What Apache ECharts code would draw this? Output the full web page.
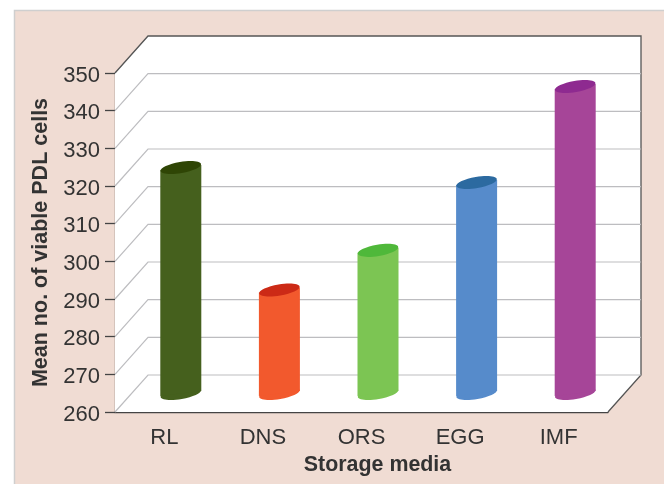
<!DOCTYPE html>
<html>
<head>
<meta charset="utf-8">
<style>
  html, body { margin: 0; padding: 0; background: #fff; }
  #chart { width: 664px; height: 484px; }
</style>
<script src="https://cdn.jsdelivr.net/npm/echarts@6/dist/echarts.min.js"></script>
</head>
<body>
<div id="chart"></div>
<script>
const categories = ['RL', 'DNS', 'ORS', 'EGG', 'IMF']
const meanCells = [320, 287.5, 298, 316, 341.5]
const yTicks = [260, 270, 280, 290, 300, 310, 320, 330, 340, 350]
const bodyColors = ['#45601d', '#f2592d', '#7cc553', '#568bcb', '#a64598']
const capColors = ['#2f4505', '#cc2a16', '#4fb83a', '#2c6aa0', '#8e2a90']

// fake 3d depth of the box, px
const depthX = 33
const depthY = -37
const barRx = 20.5
const barRy = 5.6
const tilt = 0.17
const skew = 2.5
const yMin = yTicks[0]
const font = '"Liberation Sans", Arial, sans-serif'

function wallItem(params, api) {
  const c = params.coordSys
  const right = c.x + c.width
  const bottom = c.y + c.height
  return {
    type: 'group',
    children: [
      {
        type: 'polygon',
        shape: { points: [
          [c.x, c.y], [c.x + depthX, c.y + depthY], [right + depthX, c.y + depthY],
          [right + depthX, bottom + depthY], [right, bottom], [c.x, bottom]
        ] },
        style: { fill: '#fff' }
      },
      {
        type: 'polyline',
        shape: { points: [
          [c.x, c.y], [c.x + depthX, c.y + depthY], [right + depthX, c.y + depthY],
          [right + depthX, bottom + depthY], [right, bottom]
        ] },
        style: { fill: 'none', stroke: '#555', lineWidth: 1.3 }
      }
    ]
  }
}

function gridItem(params, api) {
  const c = params.coordSys
  const y = api.coord([0, api.value(1)])[1]
  const isTop = api.value(1) === yTicks[yTicks.length - 1]
  if (isTop) return null
  return {
    type: 'polyline',
    shape: { points: [[c.x, y], [c.x + depthX, y + depthY], [c.x + c.width + depthX, y + depthY]] },
    style: { fill: 'none', stroke: '#bdbdc0', lineWidth: 1.2 }
  }
}

function barItem(params, api) {
  const i = api.value(0)
  const top = api.coord([i, api.value(1)])
  const base = api.coord([i, yMin])
  const cx = top[0] + depthX / 2
  const cyTop = top[1] + depthY / 2
  const cyBase = base[1] + depthY / 2
  const ellipse = (cy, fill) => ({
    type: 'ellipse',
    shape: { cx: cx, cy: cy, rx: barRx, ry: barRy },
    rotation: tilt,
    originX: cx,
    originY: cy,
    style: { fill: fill }
  })
  return {
    type: 'group',
    children: [
      ellipse(cyBase, bodyColors[i]),
      {
        type: 'polygon',
        shape: { points: [
          [cx - barRx, cyTop + skew], [cx + barRx, cyTop - skew],
          [cx + barRx, cyBase - skew], [cx - barRx, cyBase + skew]
        ] },
        style: { fill: bodyColors[i] }
      },
      ellipse(cyTop, capColors[i])
    ]
  }
}

const chart = echarts.init(document.getElementById('chart'))
chart.setOption({
  animation: false,
  backgroundColor: '#fff',
  graphic: [{
    type: 'rect',
    z: -1,
    shape: { x: 14.5, y: 10.5, width: 660, height: 490 },
    style: { fill: '#f0dcd3', stroke: '#cfcfcf', lineWidth: 1.5 }
  }],
  grid: { left: 115, top: 73, width: 493, height: 339 },
  xAxis: {
    type: 'category',
    data: categories,
    name: 'Storage media',
    nameLocation: 'middle',
    nameGap: 43,
    nameTextStyle: { fontFamily: font, fontSize: 21.4, fontWeight: 'bold', color: '#333', padding: [0, 0, 0, 32] },
    axisLine: { lineStyle: { color: '#444', width: 1.3 } },
    axisTick: { length: 10, lineStyle: { color: '#444', width: 1.3 } },
    axisLabel: { fontFamily: font, fontSize: 22, color: '#333', margin: 15 }
  },
  yAxis: {
    type: 'value',
    min: 260,
    max: 350,
    interval: 10,
    name: 'Mean no. of viable PDL cells',
    nameLocation: 'middle',
    nameGap: 63,
    nameTextStyle: { fontFamily: font, fontSize: 21.5, fontWeight: 'bold', color: '#333' },
    axisLine: { show: true, lineStyle: { color: '#444', width: 1.3 } },
    axisTick: { show: true, length: 10, lineStyle: { color: '#444', width: 1.3 } },
    axisLabel: { fontFamily: font, fontSize: 22, color: '#333', margin: 15, verticalAlign: 'top', lineHeight: 5 },
    splitLine: { show: false }
  },
  series: [
    { type: 'custom', silent: true, z: 1, renderItem: wallItem, data: [[0, yMin]], encode: { x: 0, y: 1 } },
    { type: 'custom', silent: true, z: 1, renderItem: gridItem, data: yTicks.map(v => [0, v]), encode: { x: 0, y: 1 } },
    { type: 'custom', silent: true, z: 3, renderItem: barItem, data: meanCells.map((v, i) => [i, v]), encode: { x: 0, y: 1 } }
  ]
})
</script>
</body>
</html>
